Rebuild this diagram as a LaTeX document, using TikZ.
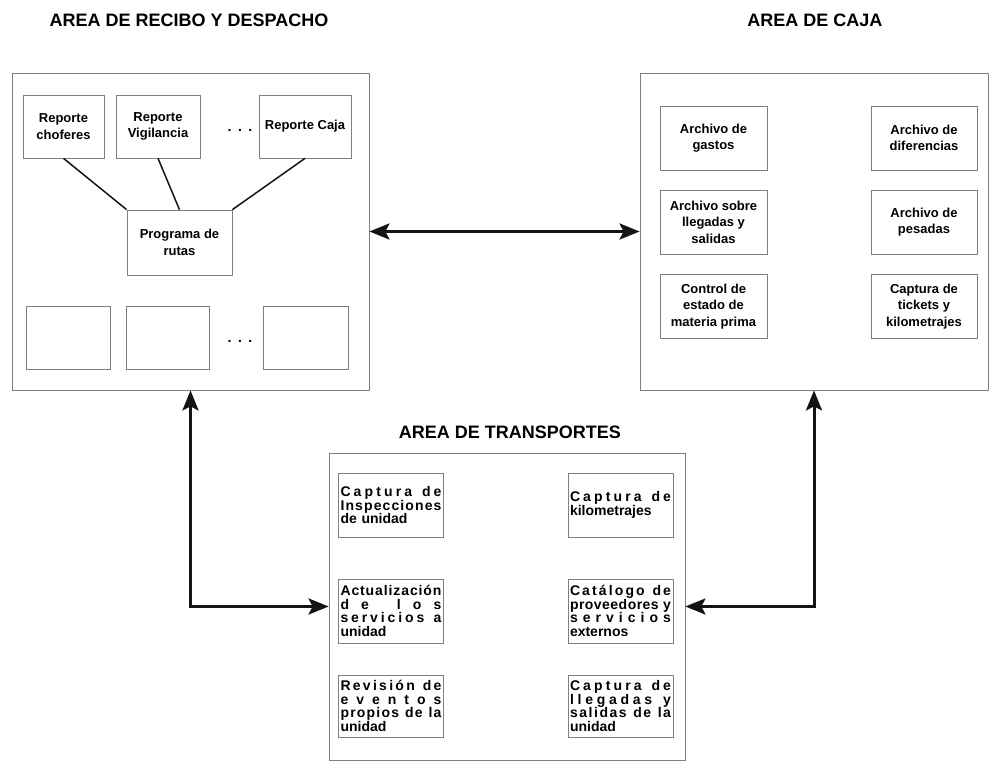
\documentclass[tikz,border=0pt]{standalone}
\usepackage{fontspec}
\setmainfont{Liberation Sans}
\usepackage{tikz}
\usetikzlibrary{arrows.meta, positioning}
\definecolor{BoxGray}{RGB}{128,128,128}
\definecolor{LinkBlack}{RGB}{20,20,20}

% one line of text stretched letter by letter to the full box width
\ExplSyntaxOn
\seq_new:N \l_spread_words_seq
\NewDocumentCommand \spreadln { m }
  {
    \seq_set_split:Nnn \l_spread_words_seq { ~ } { #1 }
    \leavevmode
    \hbox_to_wd:nn { \linewidth }
      {
        \seq_map_indexed_inline:Nn \l_spread_words_seq
          {
            \int_compare:nNnT { ##1 } > { 1 } { \hskip 0.25em plus 1fil \relax }
            \tl_map_inline:nn { ##2 } { ####1 \hfil }
          }
        \unskip
      }
    \par
  }
\ExplSyntaxOff

\begin{document}
\begin{tikzpicture}[x=1pt,y=-1pt,
    title/.style={font=\bfseries\fontsize{18}{22}\selectfont},
    area/.style={draw=BoxGray,line width=0.8pt},
    box/.style={draw=BoxGray,line width=0.7pt,align=center,inner sep=2pt,
                font=\bfseries\fontsize{13}{16.5}\selectfont},
    tbox/.style={draw=BoxGray,line width=0.7pt,text width=101pt,align=left,inner sep=2pt,
                 minimum height=64pt,font=\bfseries\fontsize{14}{13.5}\selectfont},
    dotsn/.style={font=\bfseries\fontsize{14}{16}\selectfont,inner sep=0pt},
    link/.style={LinkBlack,line width=1.5pt},
    arr/.style={{Stealth[length=20pt,width=16pt,inset=4pt]}-{Stealth[length=20pt,width=16pt,inset=4pt]},
                LinkBlack,line width=3pt}
  ]
    \useasboundingbox (0,0) rectangle (994,765);

    % titles
    \node[title] (tRecibo) at (189,20) {AREA DE RECIBO Y DESPACHO};
    \node[title] (tCaja) at (815,20) {AREA DE CAJA};
    \node[title] (tTransp) at (510,432) {AREA DE TRANSPORTES};

    % areas
    \node[area,minimum width=357pt,minimum height=317pt] (recibo) at (190.5,231.5) {};
    \node[area,minimum width=348pt,minimum height=317pt] (caja) at (814,231.5) {};
    \node[area,minimum width=356pt,minimum height=307pt] (transp) at (507,606.5) {};

    % recibo y despacho
    \node[box,minimum width=81pt,minimum height=63pt] (repChof) at (63.5,126.5) {Reporte\\choferes};
    \node[box,minimum width=84pt,minimum height=63pt] (repVig) at (158,126.5) {Reporte\\Vigilancia};
    \node[dotsn] (dotsTop) at (240,130) {.\hspace{6.5pt}.\hspace{6.5pt}.};
    \node[box,minimum width=92pt,minimum height=63pt] (repCaja) at (305,126.5) {Reporte Caja};
    \node[box,minimum width=105pt,minimum height=65pt] (prog) at (179.5,242.5) {Programa de\\rutas};
    \node[box,minimum width=84pt,minimum height=63pt] (emp1) at (68,337.5) {};
    \node[box,minimum width=83pt,minimum height=63pt] (emp2) at (167.5,337.5) {};
    \node[dotsn] (dotsBot) at (240,341) {.\hspace{6.5pt}.\hspace{6.5pt}.};
    \node[box,minimum width=85pt,minimum height=63pt] (emp3) at (305.5,337.5) {};
    \draw[link] (repChof.south) -- (prog.north west);
    \draw[link] (repVig.south) -- (prog.north);
    \draw[link] (repCaja.south) -- (prog.north east);

    % caja
    \node[box,minimum width=107pt,minimum height=64pt] (arcGas) at (713.5,138) {Archivo de\\gastos};
    \node[box,minimum width=106pt,minimum height=64pt] (arcDif) at (924,138) {Archivo de\\diferencias};
    \node[box,minimum width=107pt,minimum height=64pt] (arcLleg) at (713.5,222) {Archivo sobre\\llegadas y\\salidas};
    \node[box,minimum width=106pt,minimum height=64pt] (arcPes) at (924,222) {Archivo de\\pesadas};
    \node[box,minimum width=107pt,minimum height=64pt] (ctlMat) at (713.5,306.5) {Control de\\estado de\\materia prima};
    \node[box,minimum width=106pt,minimum height=64pt] (capTick) at (924,306.5) {Captura de\\tickets y\\kilometrajes};

    % transportes
    \node[tbox] (capInsp) at (391,505) {\spreadln{Captura de}\spreadln{Inspecciones}de unidad};
    \node[tbox] (capKm) at (620.5,505) {\spreadln{Captura de}kilometrajes};
    \node[tbox] (actServ) at (391,611) {\spreadln{Actualización}\spreadln{de los}\spreadln{servicios a}unidad};
    \node[tbox] (catProv) at (620.5,611) {\spreadln{Catálogo de}\spreadln{proveedores y}\spreadln{servicios}externos};
    \node[tbox,minimum height=62pt] (revEv) at (391,706) {\spreadln{Revisión de}\spreadln{eventos}\spreadln{propios de la}unidad};
    \node[tbox,minimum height=62pt] (capLleg) at (620.5,706) {\spreadln{Captura de}\spreadln{llegadas y}\spreadln{salidas de la}unidad};

    % connections between areas
    \draw[arr] (recibo.east) -- (caja.west);
    \draw[arr] (recibo.south) |- (transp.west);
    \draw[arr] (caja.south) |- (transp.east);
  \end{tikzpicture}
\end{document}
